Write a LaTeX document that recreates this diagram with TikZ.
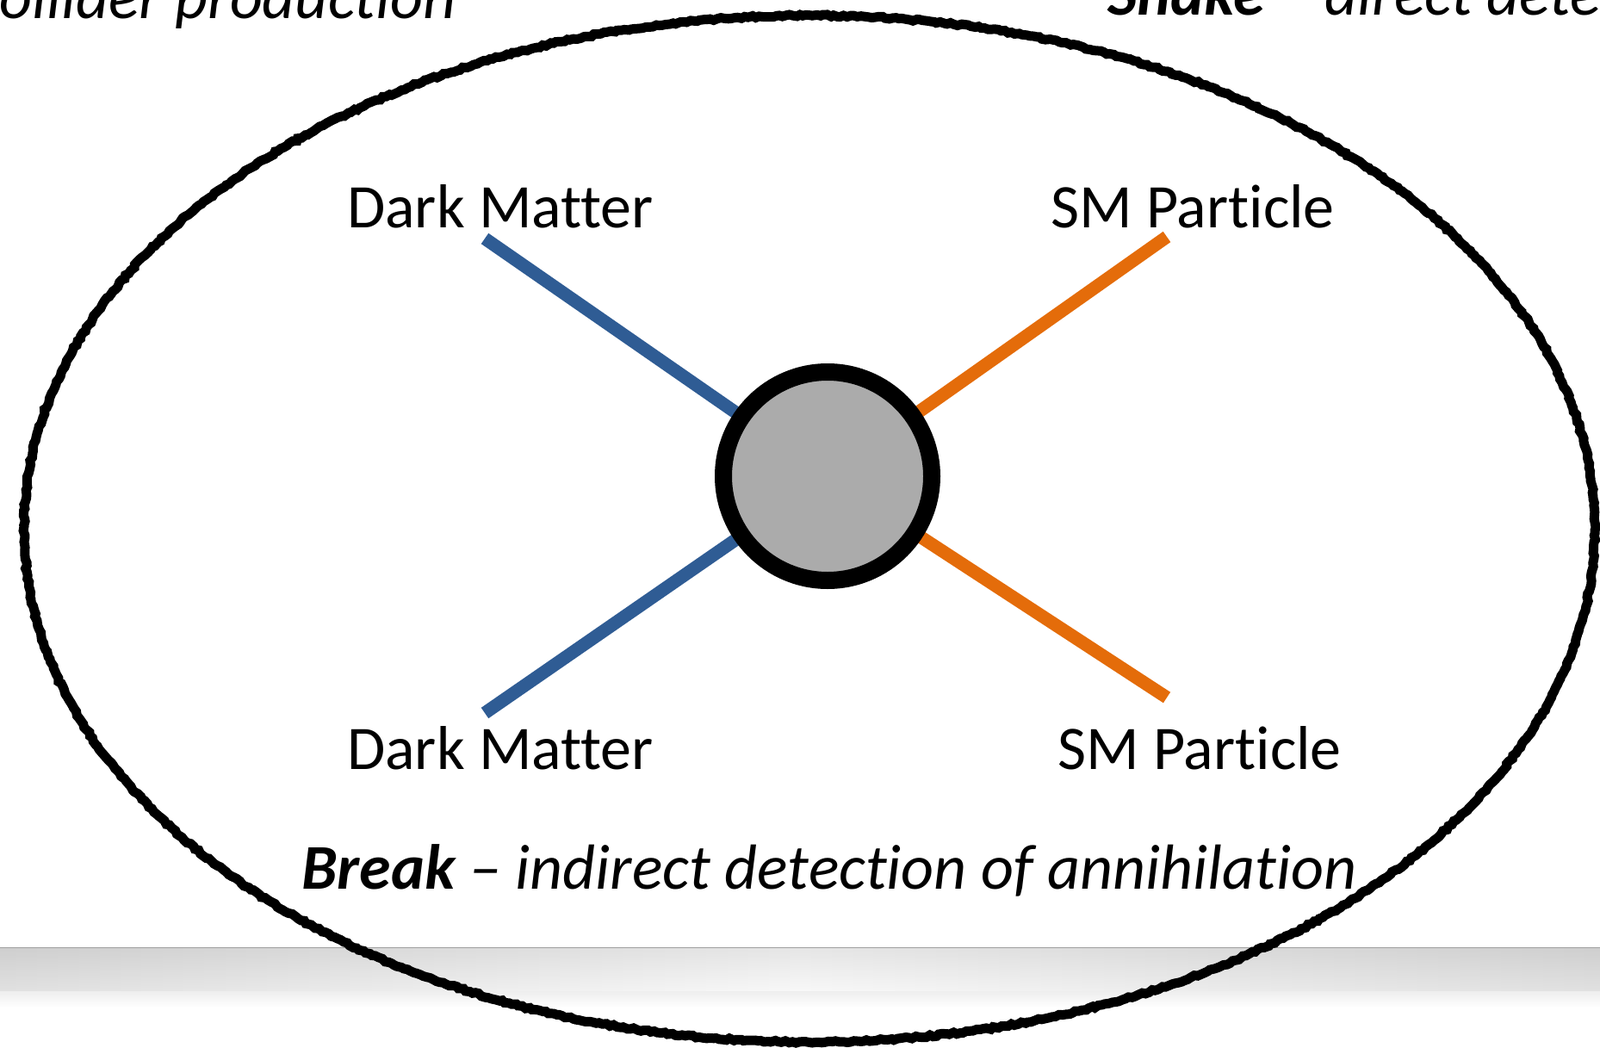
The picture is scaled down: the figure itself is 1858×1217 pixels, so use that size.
\documentclass[tikz,border=0pt]{standalone}
\usepackage{fontspec}
\setmainfont{Carlito}[Ligatures={TeX,NoCommon}]
\usetikzlibrary{decorations.pathmorphing}
\definecolor{dmblue}{RGB}{47,92,148}
\definecolor{smorange}{RGB}{228,108,10}
\definecolor{blobgray}{RGB}{171,171,171}
\tikzset{
	leg/.style={line width=15pt},
	lbl/.style={font=\fontsize{72}{80}\selectfont},
	caption/.style={font=\fontsize{74}{82}\selectfont\itshape, inner sep=0pt},
}
\begin{document}
\begin{tikzpicture}[x=1pt,y=-1pt]
			\useasboundingbox (0,0) rectangle (1858,1217);
			\clip (0,0) rectangle (1858,1217);
			% slide shadow
			\shade[top color=gray!50, bottom color=white] (0,1100) rectangle (1858,1170);
			\shade[left color=gray!30, right color=gray!30, middle color=white, opacity=0.6] (0,1100) rectangle (1858,1150);
			\draw[thin, gray!75] (0,1100) -- (1858,1100);
			% rough ring
			\draw[line width=11pt, decorate, decoration={random steps, segment length=4pt, amplitude=1.2pt}]
				(940,614) ellipse [x radius=912, y radius=596];
			\coordinate (vtx) at (961,553);
			\coordinate (dmA) at (563,277);
			\coordinate (dmB) at (563,828);
			\coordinate (smA) at (1355,275);
			\coordinate (smB) at (1355,810);
			\foreach \e\c in {dmA/dmblue,dmB/dmblue,smA/smorange,smB/smorange}{
				\draw[leg, \c] (\e) -- (vtx);
			}
			\node[circle, draw, line width=20pt, fill=blobgray, minimum size=242pt, inner sep=0pt] (blob) at (vtx) {};
			\node[lbl] (dmAl) at (581,240) {Dark Matter};
			\node[lbl] (smAl) at (1385,240) {SM Particle};
			\node[lbl] (dmBl) at (581,869) {Dark Matter};
			\node[lbl] (smBl) at (1393,869) {SM Particle};
			\node[caption, anchor=base] (brk) at (963,1032) {\textbf{Break} – indirect detection of annihilation};
			\node[caption, anchor=base east] (make) at (530,22) {\textbf{Make} – collider production};
			\node[caption, anchor=base west] (shake) at (1286,18) {\textbf{Shake} – direct detection};
\end{tikzpicture}
\end{document}
